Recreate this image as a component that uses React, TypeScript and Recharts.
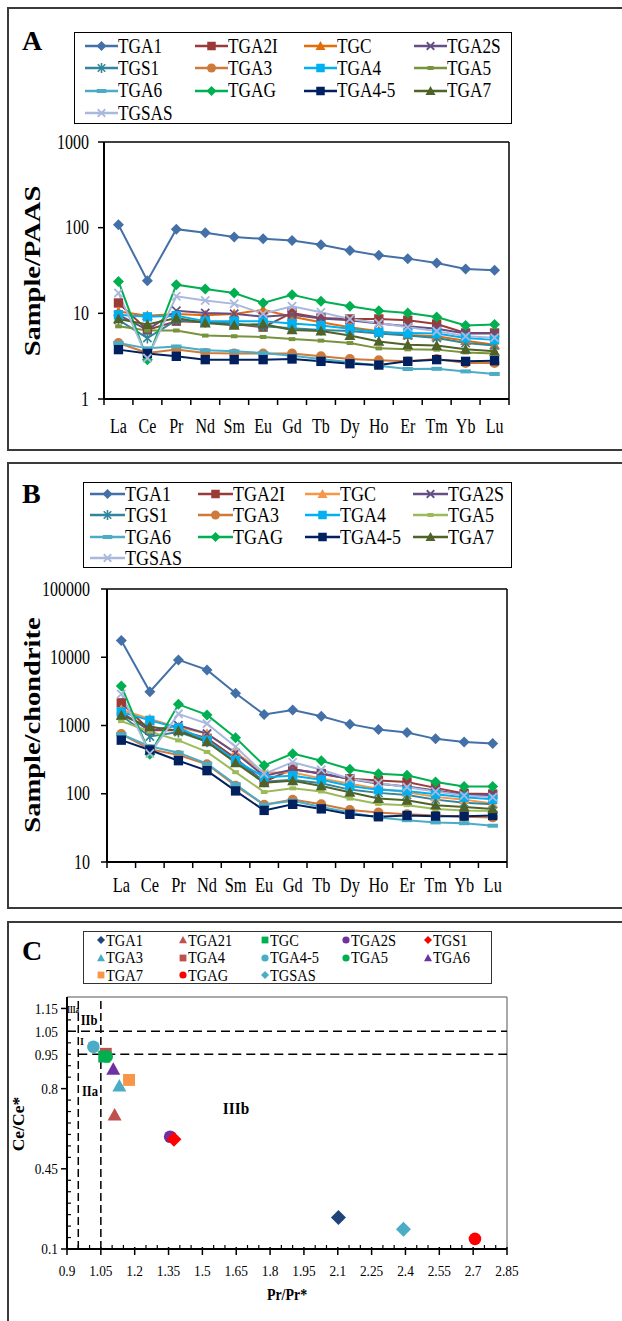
import React from "react";
import {
  LineChart,
  Line,
  XAxis,
  YAxis,
  Legend,
  ReferenceLine,
  ReferenceDot,
  ScatterChart,
  Scatter,
} from "recharts";

const SERIF = "'Liberation Serif', 'Times New Roman', serif";

// REE order on the x axis of panels A and B
const elements = ["La", "Ce", "Pr", "Nd", "Sm", "Eu", "Gd", "Tb", "Dy", "Ho", "Er", "Tm", "Yb", "Lu"];

// series order (= legend order, later ones drawn on top)
const samples = ["TGA1", "TGA2I", "TGC", "TGA2S", "TGS1", "TGA3", "TGA4", "TGA5", "TGA6", "TGAG", "TGA4-5", "TGA7", "TGSAS"];
const sampleShapes = ["diamond", "square", "triangle", "cross", "star", "circle", "square", "dash", "bar", "diamond", "square", "triangle", "cross"];
const colorsA = ["#4470A8", "#9B3B38", "#E46C0A", "#654E86", "#31859C", "#CD7A3C", "#00B0F0", "#77933C", "#4BACC6", "#00B050", "#002060", "#4F6228", "#A9B8DC"];
const colorsB = ["#4470A8", "#9B3B38", "#F79646", "#654E86", "#31859C", "#CD7A3C", "#00B0F0", "#9BBB59", "#4BACC6", "#00B050", "#002060", "#4F6228", "#A9B8DC"];

// Panel A: Sample/PAAS
const paasTGA1 = [108, 24, 96, 87, 78, 74, 71, 63, 54, 47.5, 43.5, 38.7, 33, 31.8];
const paasTGA2I = [13.2, 6.4, 8.1, 7.85, 7.5, 6.9, 10.1, 8.8, 8.6, 8.6, 8.3, 7.5, 5.9, 5.9];
const paasTGC = [10.5, 9.4, 9.8, 9.5, 9.8, 11.0, 9.1, 7.85, 6.9, 6.2, 5.6, 5.4, 4.8, 4.3];
const paasTGA2S = [9.6, 6.4, 10.7, 10.1, 9.9, 9.1, 9.6, 8.7, 8.3, 7.6, 7.05, 6.6, 5.8, 5.8];
const paasTGS1 = [8.4, 5.15, 8.3, 7.9, 7.6, 7.05, 6.7, 6.4, 6.2, 5.8, 5.5, 5.15, 4.5, 4.2];
const paasTGA3 = [4.5, 3.44, 3.77, 3.44, 3.4, 3.4, 3.4, 3.15, 2.93, 2.83, 2.75, 2.93, 2.63, 2.63];
const paasTGA4 = [9.6, 9.1, 9.4, 8.1, 8.1, 8.1, 7.6, 7.2, 6.6, 6.0, 5.9, 5.8, 5.15, 4.9];
const paasTGA5 = [7.05, 6.3, 6.3, 5.5, 5.4, 5.3, 5.0, 4.8, 4.5, 3.9, 3.8, 3.77, 3.5, 3.4];
const paasTGA6 = [4.5, 3.9, 4.1, 3.7, 3.6, 3.44, 3.2, 2.93, 2.68, 2.45, 2.24, 2.25, 2.1, 1.96];
const paasTGAG = [23.6, 2.88, 21.6, 19.2, 17.3, 13.2, 16.5, 13.8, 12.1, 10.7, 10.1, 9.06, 7.2, 7.4];
const paasTGA45 = [3.77, 3.4, 3.15, 2.88, 2.88, 2.88, 2.93, 2.75, 2.58, 2.49, 2.75, 2.88, 2.75, 2.8];
const paasTGA7 = [8.6, 7.4, 8.8, 7.7, 7.25, 7.5, 6.4, 6.2, 5.5, 4.7, 4.3, 4.2, 3.8, 3.6];
const paasTGSAS = [17.3, 3.0, 15.8, 14.1, 12.9, 9.9, 12.1, 10.3, 8.6, 7.7, 6.9, 6.2, 5.4, 5.2];
const paasSeries = [paasTGA1, paasTGA2I, paasTGC, paasTGA2S, paasTGS1, paasTGA3, paasTGA4, paasTGA5, paasTGA6, paasTGAG, paasTGA45, paasTGA7, paasTGSAS];
const paasTicks = [1, 10, 100, 1000];

// Panel B: Sample/chondrite
const chonTGA1 = [17600, 3130, 9140, 6520, 2960, 1450, 1680, 1370, 1047, 873, 789, 637, 575, 544];
const chonTGA2I = [2150, 850, 850, 650, 330, 150, 230, 195, 166, 157, 149, 122, 101, 99];
const chonTGC = [1700, 1250, 940, 760, 400, 205, 205, 168, 140, 118, 105, 90, 82, 72];
const chonTGA2S = [1560, 840, 1010, 760, 395, 182, 226, 200, 164, 140, 128, 112, 97, 95];
const chonTGS1 = [1400, 690, 800, 580, 300, 150, 160, 142, 115, 103, 96, 82, 74, 70];
const chonTGA3 = [750, 450, 370, 270, 131, 69, 82, 70, 58, 53, 50, 48, 46, 45];
const chonTGA4 = [1580, 1190, 920, 608, 308, 175, 184, 160, 130, 114, 110, 98, 89, 83];
const chonTGA5 = [1160, 815, 605, 410, 207, 106, 120, 108, 85, 71, 68, 60, 57, 56];
const chonTGA6 = [745, 495, 400, 277, 138, 69, 79, 64, 53, 45, 41, 38, 37, 34];
const chonTGAG = [3800, 380, 2040, 1430, 662, 260, 387, 305, 228, 197, 186, 149, 128, 128];
const chonTGA45 = [610, 438, 305, 218, 110, 57, 70, 60, 50, 46, 48, 47, 47, 48];
const chonTGA7 = [1410, 958, 836, 576, 284, 145, 155, 130, 105, 85, 80, 68, 64, 60];
const chonTGSAS = [2900, 388, 1480, 1065, 488, 196, 290, 225, 166, 144, 125, 108, 94, 89];
const chonSeries = [chonTGA1, chonTGA2I, chonTGC, chonTGA2S, chonTGS1, chonTGA3, chonTGA4, chonTGA5, chonTGA6, chonTGAG, chonTGA45, chonTGA7, chonTGSAS];
const chonTicks = [10, 100, 1000, 10000, 100000];

// Panel C: Ce/Ce* vs Pr/Pr*
const scatterSamples = ["TGA1", "TGA21", "TGC", "TGA2S", "TGS1", "TGA3", "TGA4", "TGA4-5", "TGA5", "TGA6", "TGA7", "TGAG", "TGSAS"];
const scatterShapes = ["diamond", "triangle", "square", "circle", "diamond", "triangle", "square", "circle", "circle", "triangle", "square", "circle", "diamond"];
const scatterColors = ["#1F4478", "#C0504D", "#00B050", "#7030A0", "#FF0000", "#4BACC6", "#C0504D", "#4BACC6", "#00B050", "#7030A0", "#F79646", "#FF0000", "#4BACC6"];
const prRatio = [2.103, 1.111, 1.065, 1.357, 1.374, 1.132, 1.072, 1.017, 1.076, 1.105, 1.175, 2.708, 2.391];
const ceRatio = [0.237, 0.685, 0.94, 0.59, 0.579, 0.812, 0.952, 0.983, 0.94, 0.885, 0.838, 0.144, 0.186];
const scatterDrawOrder = [0, 1, 6, 2, 3, 4, 5, 7, 8, 9, 10, 11, 12];
const prMajorTicks = [0.9, 1.05, 1.2, 1.35, 1.5, 1.65, 1.8, 1.95, 2.1, 2.25, 2.4, 2.55, 2.7, 2.85];
const ceLabelTicks = [0.1, 0.45, 0.8, 0.95, 1.05, 1.15];
const ceMajorTicks = [0.1, 0.45, 0.8, 1.15];
const zoneNames = ["IIIa", "IIb", "I", "IIa", "IIIb"];
const zoneX = [0.927, 0.998, 0.966, 1.002, 1.649];
const zoneY = [1.144, 1.1, 1.004, 0.79, 0.716];
const zoneFont = [10, 14, 10, 14, 17];

const r2 = (v: number) => Math.round(v * 100) / 100;
const elementTicks = [...elements.flatMap((_, i) => [i, i + 0.5]), elements.length];
const prTicks = prMajorTicks.flatMap((v, i) => (i < prMajorTicks.length - 1 ? [v, r2(v + 0.05), r2(v + 0.1)] : [v]));
const ceTicks = Array.from({ length: 22 }, (_, i) => r2(0.1 + 0.05 * i));

const buildRows = (series: number[][]) =>
  elements.map((el, i) => {
    const row: Record<string, number | string> = { pos: i + 0.5, el };
    samples.forEach((s, k) => {
      row[s] = series[k][i];
    });
    return row;
  });
const rowsA = buildRows(paasSeries);
const rowsB = buildRows(chonSeries);

function SText({ x, y, size, sx = 1, anchor = "middle", bold = false, rotate = 0, children }: any) {
  return (
    <text
      transform={`translate(${x},${y}) rotate(${rotate}) scale(${sx},1)`}
      fontFamily={SERIF}
      fontSize={size}
      fontWeight={bold ? 700 : 400}
      textAnchor={anchor}
      dominantBaseline="central"
      fill="#000"
    >
      {children}
    </text>
  );
}

function Mark({ shape, cx, cy, size, color }: { shape: string; cx: number; cy: number; size: number; color: string }) {
  if (cx == null || cy == null) return <g />;
  const h = size / 2;
  const c = h * 0.75;
  switch (shape) {
    case "diamond":
      return <polygon points={`${cx},${cy - h} ${cx + h},${cy} ${cx},${cy + h} ${cx - h},${cy}`} fill={color} />;
    case "square":
      return <rect x={cx - h * 0.85} y={cy - h * 0.85} width={h * 1.7} height={h * 1.7} fill={color} />;
    case "triangle":
      return <polygon points={`${cx},${cy - h} ${cx + h},${cy + h * 0.8} ${cx - h},${cy + h * 0.8}`} fill={color} />;
    case "circle":
      return <circle cx={cx} cy={cy} r={h * 0.9} fill={color} />;
    case "cross":
      return (
        <g stroke={color} strokeWidth={1.8}>
          <line x1={cx - c} y1={cy - c} x2={cx + c} y2={cy + c} />
          <line x1={cx - c} y1={cy + c} x2={cx + c} y2={cy - c} />
        </g>
      );
    case "star":
      return (
        <g stroke={color} strokeWidth={1.6}>
          <line x1={cx - c} y1={cy - c} x2={cx + c} y2={cy + c} />
          <line x1={cx - c} y1={cy + c} x2={cx + c} y2={cy - c} />
          <line x1={cx} y1={cy - h} x2={cx} y2={cy + h} />
        </g>
      );
    case "dash":
      return <rect x={cx - h * 0.6} y={cy - 2} width={h * 1.2} height={4} fill={color} />;
    case "bar":
      return <rect x={cx - h * 0.95} y={cy - 2} width={h * 1.9} height={4} fill={color} />;
  }
  return <g />;
}

function LineLegend({ colors, width, height, firstX, firstY, colStep, rowStep, lineLen, fontSize, sx }: any) {
  return (
    <div style={{ width, height, border: "1.5px solid #000", boxSizing: "border-box", position: "relative", background: "#fff", fontFamily: SERIF }}>
      {samples.map((s, k) => {
        const r = Math.floor(k / 4);
        const c = k % 4;
        return (
          <div key={s} style={{ position: "absolute", left: firstX + c * colStep, top: firstY + r * rowStep - 10, height: 20, display: "flex", alignItems: "center" }}>
            <svg width={lineLen} height={20} style={{ display: "block" }}>
              <line x1={0} x2={lineLen} y1={10} y2={10} stroke={colors[k]} strokeWidth={2.5} />
              <Mark shape={sampleShapes[k]} cx={lineLen / 2} cy={10} size={10} color={colors[k]} />
            </svg>
            <span style={{ fontSize, lineHeight: 1, display: "inline-block", whiteSpace: "nowrap", transform: `scaleX(${sx})`, transformOrigin: "left center", color: "#000" }}>{s}</span>
          </div>
        );
      })}
    </div>
  );
}

function ScatterLegend() {
  return (
    <div style={{ width: 409, height: 53, border: "1.5px solid #333", boxSizing: "border-box", position: "relative", background: "#fff", fontFamily: SERIF }}>
      {scatterSamples.map((s, k) => {
        const r = Math.floor(k / 5);
        const c = k % 5;
        return (
          <div key={s} style={{ position: "absolute", left: 12 + c * 81.8, top: 8 + r * 17.5 - 9, height: 18, display: "flex", alignItems: "center" }}>
            <svg width={10} height={18} style={{ display: "block" }}>
              <Mark shape={scatterShapes[k]} cx={5} cy={9} size={8} color={scatterColors[k]} />
            </svg>
            <span style={{ fontSize: 17, lineHeight: 1, display: "inline-block", whiteSpace: "nowrap", transform: "scaleX(0.85)", transformOrigin: "left center", color: "#000" }}>{s}</span>
          </div>
        );
      })}
    </div>
  );
}

const elementTick = (dy: number, size: number, sx: number) => (p: any) => {
  const v = p.payload.value;
  if (Number.isInteger(v)) return <line x1={p.x} x2={p.x} y1={p.y} y2={p.y + 6} stroke="#000" strokeWidth={1.5} />;
  return (
    <SText x={p.x} y={p.y + dy} size={size} sx={sx}>
      {elements[Math.floor(v)]}
    </SText>
  );
};

const valueTick = (size: number, sx: number) => (p: any) => (
  <SText x={p.x} y={p.y} size={size} sx={sx} anchor="end">
    {p.payload.value}
  </SText>
);

const prTick = (p: any) => {
  const v = r2(p.payload.value);
  if (prMajorTicks.includes(v)) {
    return (
      <g>
        <line x1={p.x} x2={p.x} y1={p.y - 2} y2={p.y + 6} stroke="#000" strokeWidth={1.5} />
        <SText x={p.x} y={p.y + 22} size={15} sx={0.89}>
          {v}
        </SText>
      </g>
    );
  }
  return <line x1={p.x} x2={p.x} y1={p.y - 4} y2={p.y} stroke="#000" strokeWidth={1.2} />;
};

const ceTick = (p: any) => {
  const v = r2(p.payload.value);
  const major = ceMajorTicks.includes(v);
  return (
    <g>
      {major ? (
        <line x1={p.x - 6} x2={p.x} y1={p.y} y2={p.y} stroke="#000" strokeWidth={1.5} />
      ) : (
        <line x1={p.x} x2={p.x + 4} y1={p.y} y2={p.y} stroke="#000" strokeWidth={1.2} />
      )}
      {ceLabelTicks.includes(v) && (
        <SText x={p.x - 9} y={p.y} size={15} sx={0.89} anchor="end">
          {v}
        </SText>
      )}
    </g>
  );
};

function Panel({ top, height, letter, letterTop }: { top: number; height: number; letter: string; letterTop: number }) {
  return (
    <>
      <div style={{ position: "absolute", left: 7, top, width: 700, height, border: "2px solid #3a3a3a", boxSizing: "border-box" }} />
      <div style={{ position: "absolute", left: 22, top: letterTop, fontFamily: SERIF, fontWeight: 700, fontSize: 28, lineHeight: 1 }}>{letter}</div>
    </>
  );
}

export default function App() {
  return (
    <div style={{ position: "absolute", left: 0, top: 0, width: 622, height: 1321, overflow: "hidden", background: "#fff" }}>
      <Panel top={7} height={444} letter="A" letterTop={27} />
      <Panel top={462} height={447} letter="B" letterTop={480} />
      <Panel top={921} height={500} letter="C" letterTop={937} />

      {/* Panel A */}
      <div style={{ position: "absolute", left: 0, top: 0 }}>
        <LineChart width={622} height={450} data={rowsA} margin={{ top: 142, right: 113, bottom: 0, left: 0 }}>
          <XAxis
            dataKey="pos"
            type="number"
            domain={[0, elements.length]}
            ticks={elementTicks}
            interval={0}
            tickLine={false}
            tickSize={0}
            tickMargin={0}
            height={51}
            axisLine={{ stroke: "#000", strokeWidth: 2 }}
            tick={elementTick(27, 20, 0.8)}
          />
          <YAxis
            type="number"
            scale="log"
            domain={[1, 1000]}
            ticks={paasTicks}
            allowDataOverflow
            width={104}
            tickSize={6}
            tickMargin={9}
            axisLine={{ stroke: "#000", strokeWidth: 2 }}
            tickLine={{ stroke: "#000", strokeWidth: 1.5 }}
            tick={valueTick(20, 0.8)}
            label={{ content: () => <SText x={32} y={271} size={23} bold rotate={-90} sx={1.24}>Sample/PAAS</SText> }}
          />
          <ReferenceLine y={1000} stroke="#000" strokeWidth={1.5} />
          <ReferenceLine x={elements.length} stroke="#000" strokeWidth={1.5} />
          {samples.map((s, k) => (
            <Line
              key={s}
              dataKey={s}
              stroke={colorsA[k]}
              strokeWidth={2}
              isAnimationActive={false}
              activeDot={false}
              dot={(p: any) => <Mark key={`${s}-${p.index}`} shape={sampleShapes[k]} cx={p.cx} cy={p.cy} size={11} color={colorsA[k]} />}
            />
          ))}
          <Legend
            layout="vertical"
            align="center"
            verticalAlign="middle"
            wrapperStyle={{ left: 74, top: 32, width: 438, height: 92 }}
            content={() => (
              <LineLegend colors={colorsA} width={438} height={92} firstX={10} firstY={13} colStep={109.7} rowStep={22.4} lineLen={33} fontSize={21} sx={0.82} />
            )}
          />
        </LineChart>
      </div>

      {/* Panel B */}
      <div style={{ position: "absolute", left: 0, top: 455 }}>
        <LineChart width={622} height={455} data={rowsB} margin={{ top: 134, right: 115, bottom: 0, left: 0 }}>
          <XAxis
            dataKey="pos"
            type="number"
            domain={[0, elements.length]}
            ticks={elementTicks}
            interval={0}
            tickLine={false}
            tickSize={0}
            tickMargin={0}
            height={48}
            axisLine={{ stroke: "#000", strokeWidth: 2 }}
            tick={elementTick(23, 20, 0.82)}
          />
          <YAxis
            type="number"
            scale="log"
            domain={[10, 100000]}
            ticks={chonTicks}
            allowDataOverflow
            width={107}
            tickSize={6}
            tickMargin={11}
            axisLine={{ stroke: "#000", strokeWidth: 2 }}
            tickLine={{ stroke: "#000", strokeWidth: 1.5 }}
            tick={valueTick(20, 0.8)}
            label={{ content: () => <SText x={32} y={270} size={23} bold rotate={-90} sx={1.24}>Sample/chondrite</SText> }}
          />
          <ReferenceLine y={100000} stroke="#000" strokeWidth={1.5} />
          <ReferenceLine x={elements.length} stroke="#000" strokeWidth={1.5} />
          {samples.map((s, k) => (
            <Line
              key={s}
              dataKey={s}
              stroke={colorsB[k]}
              strokeWidth={2}
              isAnimationActive={false}
              activeDot={false}
              dot={(p: any) => <Mark key={`${s}-${p.index}`} shape={sampleShapes[k]} cx={p.cx} cy={p.cy} size={11} color={colorsB[k]} />}
            />
          ))}
          <Legend
            layout="vertical"
            align="center"
            verticalAlign="middle"
            wrapperStyle={{ left: 83, top: 27, width: 429, height: 86 }}
            content={() => (
              <LineLegend colors={colorsB} width={429} height={86} firstX={6} firstY={11} colStep={107.7} rowStep={21.3} lineLen={35} fontSize={20} sx={0.9} />
            )}
          />
        </LineChart>
      </div>

      {/* Panel C */}
      <div style={{ position: "absolute", left: 0, top: 915 }}>
        <ScatterChart width={622} height={406} margin={{ top: 82, right: 115, bottom: 0, left: 0 }}>
          <XAxis
            dataKey="x"
            type="number"
            domain={[0.9, 2.85]}
            ticks={prTicks}
            interval={0}
            tickLine={false}
            tickSize={0}
            tickMargin={0}
            height={72}
            axisLine={{ stroke: "#000", strokeWidth: 2 }}
            tick={prTick}
            label={{ content: () => <SText x={287} y={380} size={16} bold sx={0.87}>Pr/Pr*</SText> }}
          />
          <YAxis
            dataKey="y"
            type="number"
            domain={[0.1, 1.2]}
            ticks={ceTicks}
            interval={0}
            tickLine={false}
            tickSize={0}
            tickMargin={0}
            width={67}
            axisLine={{ stroke: "#000", strokeWidth: 2 }}
            tick={ceTick}
            label={{ content: () => <SText x={18.5} y={209} size={16} bold rotate={-90} sx={1.1}>Ce/Ce*</SText> }}
          />
          <ReferenceLine y={1.2} stroke="#8c8c8c" strokeWidth={1.5} />
          <ReferenceLine x={2.85} stroke="#8c8c8c" strokeWidth={1.5} />
          <ReferenceLine x={0.95} stroke="#000" strokeWidth={1.5} strokeDasharray="8 4" />
          <ReferenceLine x={1.05} stroke="#000" strokeWidth={1.5} strokeDasharray="8 4" />
          <ReferenceLine segment={[{ x: 0.9, y: 1.05 }, { x: 2.85, y: 1.05 }]} stroke="#000" strokeWidth={1.5} strokeDasharray="9 5" />
          <ReferenceLine segment={[{ x: 0.95, y: 0.95 }, { x: 2.85, y: 0.95 }]} stroke="#000" strokeWidth={1.5} strokeDasharray="9 5" />
          {zoneNames.map((z, i) => (
            <ReferenceDot
              key={z}
              x={zoneX[i]}
              y={zoneY[i]}
              r={0}
              fill="none"
              stroke="none"
              label={{
                content: (p: any) => (
                  <SText x={p.viewBox.x + (p.viewBox.width || 0) / 2} y={p.viewBox.y + (p.viewBox.height || 0) / 2} size={zoneFont[i]} bold sx={z === "IIIa" ? 0.7 : 0.9}>
                    {z}
                  </SText>
                ),
              }}
            />
          ))}
          {scatterDrawOrder.map((k) => (
            <Scatter
              key={scatterSamples[k]}
              data={[{ x: prRatio[k], y: ceRatio[k] }]}
              isAnimationActive={false}
              shape={(p: any) => <Mark shape={scatterShapes[k]} cx={p.cx} cy={p.cy} size={scatterShapes[k] === "diamond" ? 15 : 14} color={scatterColors[k]} />}
            />
          ))}
          <Legend
            layout="vertical"
            align="center"
            verticalAlign="middle"
            wrapperStyle={{ left: 83, top: 16, width: 409, height: 53 }}
            content={() => <ScatterLegend />}
          />
        </ScatterChart>
      </div>
    </div>
  );
}
